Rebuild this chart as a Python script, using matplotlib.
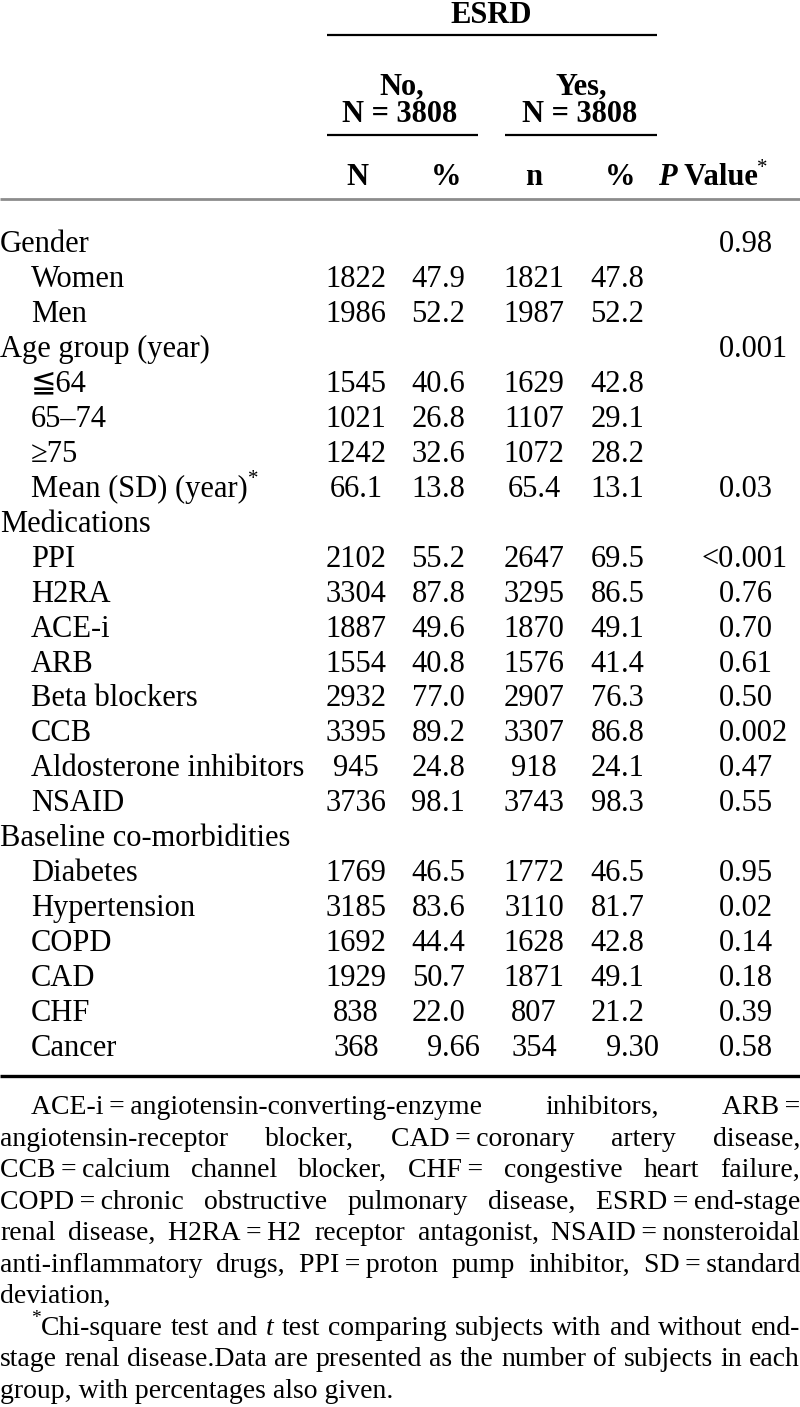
import matplotlib
matplotlib.use("Agg")
import matplotlib.pyplot as plt

plt.rcParams['font.family'] = ['Liberation Serif', 'DejaVu Serif', 'DejaVu Sans']

# ---- table content ----
row_labels = ["Gender", "Women", "Men", "Age group (year)", "\u226664", "65\u201374", "\u226575",
              "Mean (SD) (year)", "Medications", "PPI", "H2RA", "ACE-i", "ARB", "Beta blockers",
              "CCB", "Aldosterone inhibitors", "NSAID", "Baseline co-morbidities", "Diabetes",
              "Hypertension", "COPD", "CAD", "CHF", "Cancer"]
row_indent = [0, 1, 1, 0, 1, 1, 1, 1, 0, 1, 1, 1, 1, 1, 1, 1, 1, 0, 1, 1, 1, 1, 1, 1]
row_star = [r == "Mean (SD) (year)" for r in row_labels]

no_n = ["", "1822", "1986", "", "1545", "1021", "1242", "66.1", "", "2102", "3304", "1887",
        "1554", "2932", "3395", "945", "3736", "", "1769", "3185", "1692", "1929", "838", "368"]
no_pct = ["", "47.9", "52.2", "", "40.6", "26.8", "32.6", "13.8", "", "55.2", "87.8", "49.6",
          "40.8", "77.0", "89.2", "24.8", "98.1", "", "46.5", "83.6", "44.4", "50.7", "22.0", "9.66"]
yes_n = ["", "1821", "1987", "", "1629", "1107", "1072", "65.4", "", "2647", "3295", "1870",
         "1576", "2907", "3307", "918", "3743", "", "1772", "3110", "1628", "1871", "807", "354"]
yes_pct = ["", "47.8", "52.2", "", "42.8", "29.1", "28.2", "13.1", "", "69.5", "86.5", "49.1",
           "41.4", "76.3", "86.8", "24.1", "98.3", "", "46.5", "81.7", "42.8", "49.1", "21.2", "9.30"]
p_values = ["0.98", "", "", "0.001", "", "", "", "0.03", "", "<0.001", "0.76", "0.70", "0.61",
            "0.50", "0.002", "0.47", "0.55", "", "0.95", "0.02", "0.14", "0.18", "0.39", "0.58"]

group_title = "ESRD"
group_no = ["No,", "N = 3808"]
group_yes = ["Yes,", "N = 3808"]
sub_heads = ["N", "%", "n", "%"]

# footnote lines (~ joins with a thin space, spaces get stretched)
foot_lines = [
    "ACE-i~=~angiotensin-converting-enzyme inhibitors, ARB~=",
    "angiotensin-receptor blocker, CAD~=~coronary artery disease,",
    "CCB~=~calcium channel blocker, CHF~= congestive heart failure,",
    "COPD~=~chronic obstructive pulmonary disease, ESRD~=~end-stage",
    "renal disease, H2RA~=~H2 receptor antagonist, NSAID~=~nonsteroidal",
    "anti-inflammatory drugs, PPI~=~proton pump inhibitor, SD~=~standard",
]
foot_last1 = "deviation,"
foot2_first = "Chi-square test and t test comparing subjects with and without end-"
foot2_mid = "stage renal disease.Data are presented as the number of subjects in each"
foot2_last = "group, with percentages also given."

FS = 22
FS_FOOT = 20

fig = plt.figure(figsize=(8, 14.07), dpi=100)
ax = fig.add_axes([0, 0, 1, 1])
ax.set_xlim(0, 800)
ax.set_ylim(1407, 0)
ax.axis('off')
r = fig.canvas.get_renderer()


def tw(t):
    return t.get_window_extent(renderer=r).width


def put(x, y, s, size=FS, **kw):
    return ax.text(x, y, s, fontsize=size, va='baseline', **kw)


def put_dec(x, y, s):
    if not s:
        return
    a, b = s.split('.', 1)
    put(x, y, a, ha='right')
    put(x, y, '.' + b, ha='left')


# ---- header ----
put(491, 23, group_title, ha='center', fontweight='bold')
ax.plot([327, 657], [35, 35], color='black', lw=1.6, solid_capstyle='butt')
put(402, 94, group_no[0], ha='center', fontweight='bold')
put(400, 122, group_no[1], ha='center', fontweight='bold')
put(581, 94, group_yes[0], ha='center', fontweight='bold')
put(580, 122, group_yes[1], ha='center', fontweight='bold')
ax.plot([327, 478], [135, 135], color='black', lw=1.6, solid_capstyle='butt')
ax.plot([505, 657], [135, 135], color='black', lw=1.6, solid_capstyle='butt')

hy = 185
for x, s in zip([357, 446, 534, 620], sub_heads):
    put(x, hy, s, ha='center', fontweight='bold')
t1 = put(658, hy, "P", fontweight='bold', style='italic')
x = 658 + tw(t1)
t2 = put(x, hy, " Value", fontweight='bold')
x += tw(t2)
put(x - 1, hy - 12, "*", size=15)
ax.plot([0, 800], [199, 199], color='#8c8c8c', lw=2.0, solid_capstyle='butt')

# ---- body ----
for i, lab in enumerate(row_labels):
    y = 252 + 34.96 * i
    lt = put(31 if row_indent[i] else 0, y, lab)
    if row_star[i]:
        put(31 + tw(lt), y - 13, "*", size=15)
    if no_n[i]:
        put(356, y, no_n[i], ha='center')
    put_dec(442, y, no_pct[i])
    if yes_n[i]:
        put(534, y, yes_n[i], ha='center')
    put_dec(621, y, yes_pct[i])
    put_dec(734, y, p_values[i])

ax.plot([0, 800], [1076, 1076], color='black', lw=2.4, solid_capstyle='butt')


# ---- footnote ----
def justify(words, y, x0, x1):
    items = []
    for w in words:
        segs = []
        for s, kw in w:
            kw = dict(kw)
            size = kw.pop('size', FS_FOOT)
            dy = kw.pop('dy', 0)
            t = ax.text(0, 0, s, fontsize=size, va='baseline', ha='left', **kw)
            segs.append((t, dy, tw(t)))
        items.append(segs)
    total = sum(sum(sg[2] for sg in it) for it in items)
    gap = (x1 - x0 - total) / (len(items) - 1)
    x = x0
    for it in items:
        for t, dy, w in it:
            t.set_position((x, y + dy))
            x += w
        x += gap


fy = [1114 + 31.55 * k for k in range(10)]
for k, line in enumerate(foot_lines):
    words = [[(w.replace('~', '\u2009'), {})] for w in line.split(' ')]
    justify(words, fy[k], 31 if k == 0 else 0, 800)
put(0, fy[6], foot_last1, size=FS_FOOT)

w8 = []
for j, w in enumerate(foot2_first.split(' ')):
    if j == 0:
        w8.append([("*", {'size': 14, 'dy': -12}), (w, {})])
    elif w == 't':
        w8.append([(w, {'style': 'italic'})])
    else:
        w8.append([(w, {})])
justify(w8, fy[7], 31, 800)
justify([[(w, {})] for w in foot2_mid.split(' ')], fy[8], 0, 800)
put(0, fy[9], foot2_last, size=FS_FOOT)

fig.savefig('out.png', dpi=100)
